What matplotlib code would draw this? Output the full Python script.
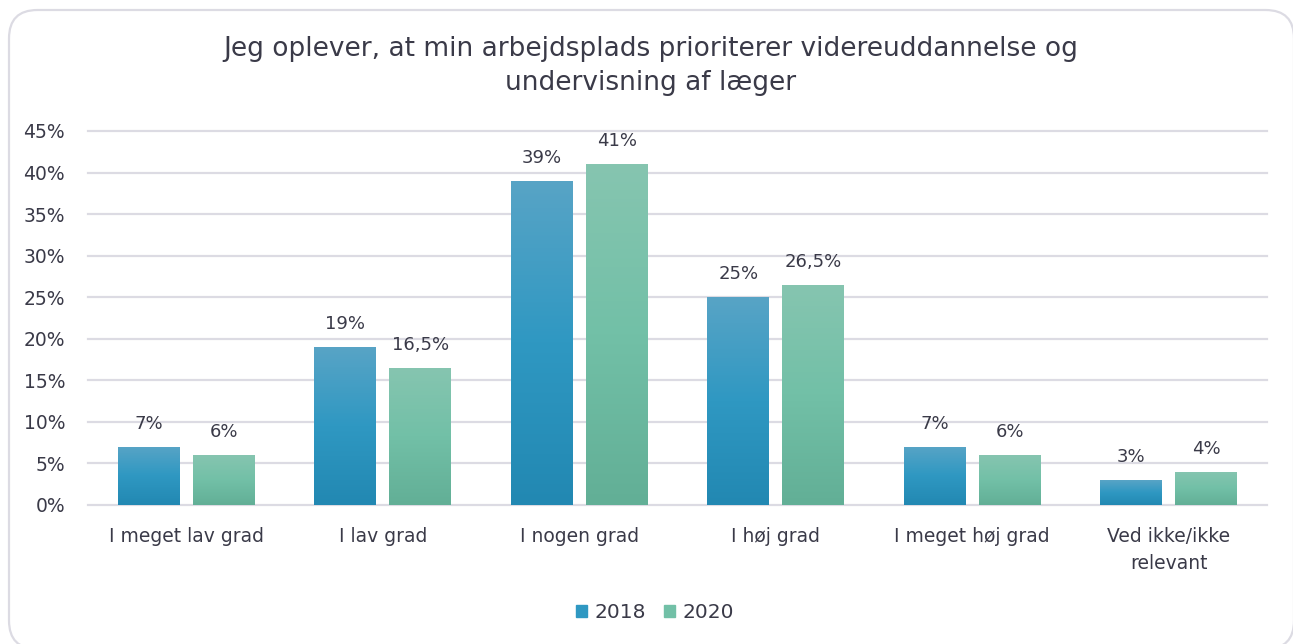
import matplotlib.pyplot as plt
import numpy as np
from matplotlib.colors import LinearSegmentedColormap
from matplotlib.patches import FancyBboxPatch

categories = ["I meget lav grad", "I lav grad", "I nogen grad", "I høj grad",
              "I meget høj grad", "Ved ikke/ikke\nrelevant"]
values_2018 = [7, 19, 39, 25, 7, 3]
values_2020 = [6, 16.5, 41, 26.5, 6, 4]
series = ["2018", "2020"]
title = "Jeg oplever, at min arbejdsplads prioriterer videreuddannelse og\nundervisning af læger"

text_col = "#3a3a48"
grid_col = "#dcdbe3"
blue_cmap = LinearSegmentedColormap.from_list("b", ["#2288b2", "#2f98c2", "#58a4c6"])
green_cmap = LinearSegmentedColormap.from_list("g", ["#62af96", "#72c0a7", "#86c5b0"])

plt.rcParams["font.family"] = ["DejaVu Sans"]

W, H = 1293, 644
fig = plt.figure(figsize=(W / 100, H / 100), dpi=100)
ax = fig.add_axes([88 / W, 1 - 505 / H, (1267 - 88) / W, (505 - 131) / H])

# rounded frame around the chart, in figure fraction; aspect keeps corners round
frame = FancyBboxPatch((9 / W, -5 / H), 1285 / W, 639 / H,
                       boxstyle="round,pad=0,rounding_size=0.022",
                       mutation_aspect=W / H,
                       transform=fig.transFigure, facecolor="none",
                       edgecolor=grid_col, linewidth=1.6, clip_on=False)
fig.patches.append(frame)

x = np.arange(len(categories))
w = 0.315
off = 0.19
bars18 = ax.bar(x - off, values_2018, w, color="#2f98c2", zorder=2)
bars20 = ax.bar(x + off, values_2020, w, color="#72c0a7", zorder=2)

grad = np.linspace(0, 1, 256).reshape(-1, 1)
for bars, cmap in ((bars18, blue_cmap), (bars20, green_cmap)):
    for b in bars:
        x0, y0 = b.get_x(), b.get_y()
        x1, y1 = x0 + b.get_width(), y0 + b.get_height()
        im = ax.imshow(grad, cmap=cmap, origin="lower", aspect="auto",
                       extent=(x0, x1, y0, y1), zorder=3)
        im.set_clip_path(b)


def fmt(v):
    return f"{v:g}".replace(".", ",") + "%"


for bars, vals in ((bars18, values_2018), (bars20, values_2020)):
    ax.bar_label(bars, labels=[fmt(v) for v in vals], padding=10,
                 fontsize=13, color=text_col, zorder=4)

ax.set_xlim(-0.5, len(categories) - 0.5)
ax.set_ylim(0, 45)
ax.set_yticks(range(0, 46, 5))
ax.set_yticklabels([f"{t}%" for t in range(0, 46, 5)])
ax.set_xticks(x)
ax.set_xticklabels(categories, linespacing=1.5)
ax.tick_params(axis="both", length=0, labelsize=13.5, colors=text_col)
ax.tick_params(axis="y", pad=16.5)
ax.tick_params(axis="x", pad=16)
ax.yaxis.grid(True, color=grid_col, linewidth=1.6, zorder=0)
for gl in ax.get_ygridlines():
    gl.set_clip_on(False)
ax.set_axisbelow(True)
for sp in ax.spines.values():
    sp.set_visible(False)

fig.text(651 / W, 1 - 66 / H, title, ha="center", va="center",
         fontsize=19, color=text_col, linespacing=1.35)

handles = [plt.Rectangle((0, 0), 1, 1, color="#2f98c2"),
           plt.Rectangle((0, 0), 1, 1, color="#72c0a7")]
fig.legend(handles, series, loc="center", bbox_to_anchor=(655 / W, 1 - 613 / H),
           ncol=2, frameon=False, fontsize=14.5, handlelength=0.55, handleheight=0.55,
           handletextpad=0.35, columnspacing=0.9, labelcolor=text_col)

fig.savefig("out.png", dpi=100)
